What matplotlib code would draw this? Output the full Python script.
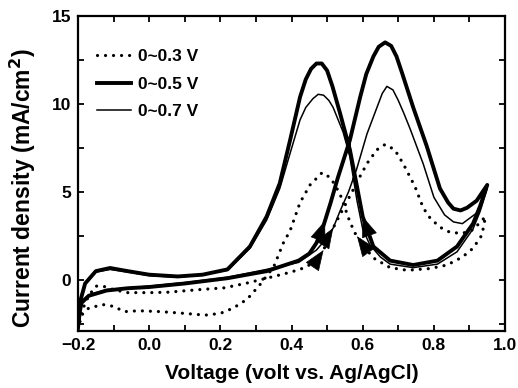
import numpy as np
import matplotlib
matplotlib.use("Agg")
import matplotlib.pyplot as plt
from matplotlib.ticker import MultipleLocator

plt.rcParams['font.family'] = ['Liberation Sans', 'DejaVu Sans']
plt.rcParams['font.weight'] = 'bold'

labels = ["0~0.3 V", "0~0.5 V", "0~0.7 V"]

# ---- 0~0.3 V (dotted) ----
d_fwd_x = [-0.2, -0.19, -0.17, -0.15, -0.13, -0.1, -0.06, 0.0, 0.05, 0.14, 0.21, 0.27, 0.33, 0.38, 0.424, 0.45,
           0.47, 0.49, 0.508, 0.536, 0.57, 0.598, 0.615, 0.64, 0.663, 0.69, 0.714, 0.747, 0.77, 0.79, 0.817,
           0.846, 0.88, 0.91, 0.945]
d_fwd_y = [-2.8, -1.8, -0.9, -0.35, -0.35, -0.55, -0.72, -0.72, -0.7, -0.55, -0.45, -0.2, 0.1, 0.35, 0.6, 0.85,
           1.1, 1.7, 2.6, 3.7, 5.0, 6.1, 6.7, 7.4, 7.7, 7.4, 6.6, 5.3, 4.1, 3.5, 3.0,
           2.7, 2.65, 2.85, 3.6]
d_rev_x = [0.945, 0.935, 0.91, 0.88, 0.837, 0.79, 0.725, 0.677, 0.63, 0.612, 0.58, 0.564, 0.55, 0.536, 0.51,
           0.486, 0.452, 0.424, 0.396, 0.377, 0.35, 0.31, 0.275, 0.236, 0.2, 0.157, 0.1, 0.033, -0.03, -0.07,
           -0.1, -0.13, -0.17, -0.19, -0.2]
d_rev_y = [3.6, 2.55, 1.8, 1.3, 0.85, 0.65, 0.55, 0.7, 1.25, 1.7, 2.6, 3.3, 4.1, 4.9, 5.8,
           6.1, 5.4, 4.4, 2.8, 2.1, 0.75, -0.3, -1.1, -1.6, -1.9, -2.0, -1.9, -1.8, -1.75, -1.8,
           -1.5, -1.4, -1.6, -2.0, -2.8]

# ---- 0~0.5 V (thick) ----
k_fwd_x = [-0.2, -0.195, -0.19, -0.17, -0.12, -0.06, 0.0, 0.1, 0.22, 0.33, 0.42, 0.45, 0.47, 0.49, 0.51, 0.53,
           0.564, 0.593, 0.61, 0.63, 0.645, 0.663, 0.68, 0.695, 0.71, 0.742, 0.78, 0.817, 0.84, 0.855, 0.875,
           0.893, 0.92, 0.95]
k_fwd_y = [-2.7, -1.8, -1.3, -0.9, -0.6, -0.47, -0.4, -0.2, 0.1, 0.5, 1.1, 1.5, 2.1, 3.1, 4.4, 5.8,
           7.95, 10.4, 11.7, 12.7, 13.25, 13.5, 13.3, 12.7, 11.8, 9.8, 7.6, 5.2, 4.4, 4.05, 3.95,
           4.1, 4.5, 5.4]
k_rev_x = [0.95, 0.93, 0.91, 0.865, 0.81, 0.742, 0.677, 0.63, 0.6, 0.584, 0.564, 0.536, 0.515, 0.5, 0.485,
           0.47, 0.455, 0.44, 0.424, 0.396, 0.367, 0.33, 0.283, 0.22, 0.15, 0.08, 0.0, -0.06, -0.11, -0.15,
           -0.18, -0.195, -0.2]
k_rev_y = [5.4, 4.2, 3.2, 1.9, 1.1, 0.85, 1.1, 1.9, 3.6, 5.3, 7.4, 9.5, 11.0, 11.9, 12.3,
           12.3, 12.0, 11.4, 10.4, 7.95, 5.5, 3.6, 1.9, 0.6, 0.3, 0.2, 0.3, 0.5, 0.68, 0.5,
           -0.2, -1.3, -2.6]

# ---- 0~0.7 V (thin) ----
t_fwd_x = [-0.2, -0.195, -0.19, -0.17, -0.12, -0.06, 0.0, 0.1, 0.22, 0.33, 0.42, 0.47, 0.5, 0.517, 0.536, 0.56,
           0.583, 0.612, 0.64, 0.655, 0.668, 0.685, 0.70, 0.715, 0.733, 0.77, 0.80, 0.83, 0.855, 0.88, 0.92, 0.95]
t_fwd_y = [-2.5, -1.7, -1.2, -0.85, -0.55, -0.45, -0.35, -0.15, 0.15, 0.6, 1.0, 1.7, 2.4, 2.95, 3.9, 5.0,
           6.3, 8.3, 9.8, 10.6, 11.0, 10.8, 10.2, 9.5, 8.6, 6.6, 4.7, 3.7, 3.3, 3.2, 3.8, 5.2]
t_rev_x = [0.95, 0.93, 0.91, 0.865, 0.81, 0.742, 0.677, 0.65, 0.62, 0.6, 0.584, 0.564, 0.545, 0.517, 0.505,
           0.49, 0.475, 0.46, 0.44, 0.424, 0.396, 0.367, 0.33, 0.283, 0.22, 0.15, 0.08, 0.0, -0.06, -0.11,
           -0.15, -0.18, -0.195, -0.2]
t_rev_y = [5.2, 3.9, 2.9, 1.6, 0.9, 0.7, 0.9, 1.3, 2.0, 2.9, 4.5, 7.0, 8.4, 9.8, 10.2,
           10.5, 10.55, 10.3, 9.8, 9.1, 7.2, 5.2, 3.4, 1.8, 0.55, 0.3, 0.15, 0.25, 0.45, 0.6,
           0.45, -0.2, -1.2, -2.4]

# arrow positions (x on branch)
fwd_arrow_x = {"d": 0.49, "k": 0.494, "t": 0.517}
rev_arrow_x = {"d": 0.584, "k": 0.6}

fig = plt.figure(figsize=(5.18, 3.88), dpi=100)
ax = fig.add_axes([0.1506, 0.1469, 0.8244, 0.8119])

styles = {
    "d": dict(color='k', lw=2.3, linestyle=(0, (0.01, 2.5)), dash_capstyle='round'),
    "k": dict(color='k', lw=2.8, solid_joinstyle='round'),
    "t": dict(color='k', lw=1.1, solid_joinstyle='round'),
}
data = {
    "d": (d_fwd_x, d_fwd_y, d_rev_x, d_rev_y),
    "k": (k_fwd_x, k_fwd_y, k_rev_x, k_rev_y),
    "t": (t_fwd_x, t_fwd_y, t_rev_x, t_rev_y),
}
for key, lab in zip(["d", "k", "t"], labels):
    fx, fy, rx, ry = data[key]
    ax.plot(list(fx) + list(rx), list(fy) + list(ry), label=lab, **styles[key])


def draw_arrow(xs, ys, x0, forward):
    xs = np.asarray(xs); ys = np.asarray(ys)
    if not forward:
        xs = xs[::-1]; ys = ys[::-1]
    y0 = np.interp(x0, xs, ys)
    dx = 0.012 if forward else -0.012
    y1 = np.interp(x0 - dx, xs, ys)
    ax.annotate('', xy=(x0, y0), xytext=(x0 - dx, y1),
                arrowprops=dict(arrowstyle='-|>,head_length=0.85,head_width=0.33', color='k', lw=0.5,
                                shrinkA=0, shrinkB=0, mutation_scale=16))


for key, x0 in fwd_arrow_x.items():
    fx, fy, rx, ry = data[key]
    draw_arrow(fx, fy, x0, True)
for key, x0 in rev_arrow_x.items():
    fx, fy, rx, ry = data[key]
    draw_arrow(rx, ry, x0, False)

ax.set_xlim(-0.2, 1.0)
ax.set_ylim(-2.9, 15)
ax.xaxis.set_major_locator(MultipleLocator(0.2))
ax.xaxis.set_minor_locator(MultipleLocator(0.1))
ax.yaxis.set_major_locator(MultipleLocator(5))
ax.yaxis.set_minor_locator(MultipleLocator(2.5))
ax.tick_params(which='both', direction='in', top=True, right=True, length=4.5, width=1.3,
               labelsize=12.5, pad=5)
for lab in ax.get_xticklabels() + ax.get_yticklabels():
    lab.set_fontweight('bold')
for s in ax.spines.values():
    s.set_linewidth(1.6)

ax.set_xlabel("Voltage (volt vs. Ag/AgCl)", fontsize=15, fontweight='bold', labelpad=8)
ax.set_ylabel("Current density (mA/cm$^\\mathbf{2}$)", fontsize=16.5, fontweight='bold')
ax.yaxis.set_label_coords(-0.094, 0.455)

ax.legend(loc='upper left', bbox_to_anchor=(0.007, 0.945), frameon=False, handlelength=2.0,
          handletextpad=0.4, labelspacing=0.72, prop=dict(weight='bold', size=12.5))

fig.savefig("out.png", dpi=100)
